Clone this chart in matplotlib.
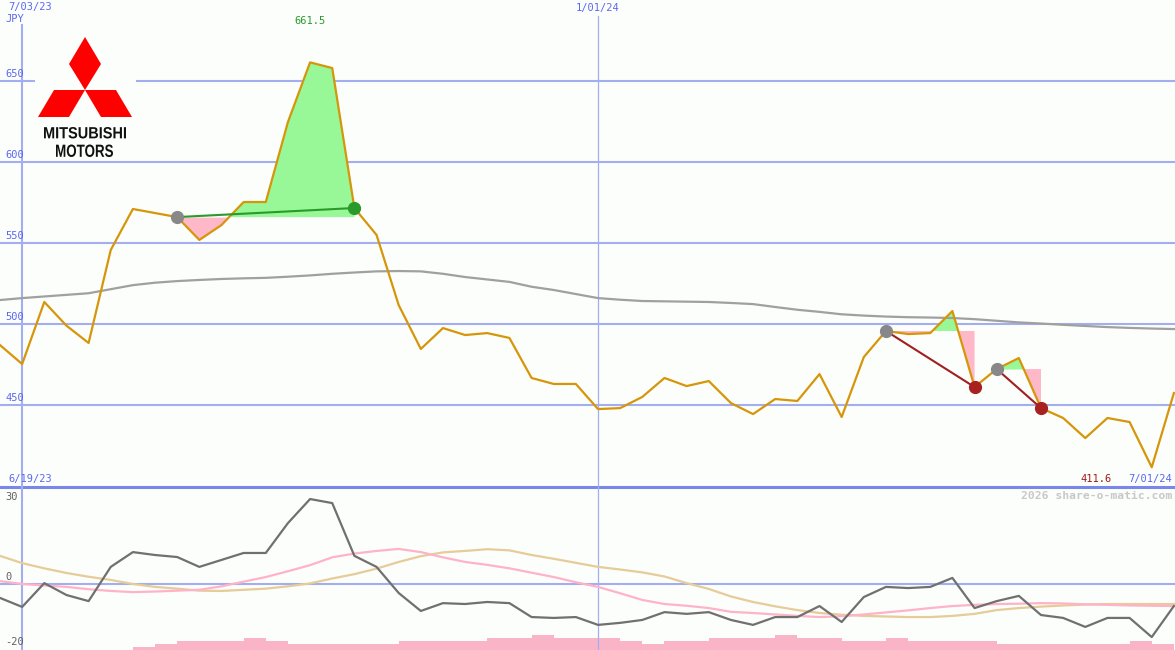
import numpy as np
import pandas as pd
import matplotlib
matplotlib.use("Agg")
import matplotlib.pyplot as plt
import matplotlib.transforms as mtrans
from matplotlib.patches import Polygon, PathPatch
from matplotlib.textpath import TextPath
from matplotlib.font_manager import FontProperties

# weekly closes, 6/26/23 .. 7/01/24
weeks = pd.date_range("2023-06-26", periods=54, freq="7D")

price = [487.0, 475.3, 513.6, 499.0, 488.3, 545.7, 571.0, 568.5, 566.0, 551.9,
         561.1, 575.3, 575.3, 624.7, 661.5, 658.0, 571.6, 555.0, 511.7, 484.6,
         497.5, 493.2, 494.4, 491.4, 466.7, 463.0, 463.0, 447.5, 448.1, 455.0,
         466.7, 461.7, 464.8, 451.2, 444.4, 453.7, 452.5, 469.1, 442.6, 479.6,
         495.7, 493.8, 494.4, 508.0, 461.1, 472.2, 479.0, 448.1, 442.0, 429.6,
         442.0, 439.5, 411.6, 457.4]

ma_long = [514.8, 516.0, 517.0, 518.0, 519.0, 521.5, 524.0, 525.5, 526.5, 527.2,
           527.8, 528.2, 528.5, 529.2, 530.0, 531.0, 531.8, 532.5, 532.7, 532.5,
           531.0, 529.0, 527.5, 526.0, 523.0, 521.0, 518.5, 516.0, 515.0, 514.2,
           514.0, 513.8, 513.6, 513.0, 512.3, 510.5, 508.8, 507.5, 506.0, 505.2,
           504.6, 504.2, 504.0, 503.7, 503.0, 502.0, 501.0, 500.3, 499.5, 498.8,
           498.1, 497.6, 497.2, 496.9]

osc = [-4.8, -7.9, 0.3, -3.8, -5.9, 5.9, 11.0, 10.0, 9.3, 5.9,
       8.3, 10.7, 10.7, 21.0, 29.3, 27.9, 9.7, 5.9, -3.1, -9.3,
       -6.6, -6.9, -6.2, -6.6, -11.4, -11.7, -11.4, -14.1, -13.4, -12.4,
       -9.7, -10.3, -9.7, -12.4, -14.1, -11.4, -11.4, -7.6, -13.1, -4.5,
       -1.0, -1.4, -1.0, 2.1, -8.3, -5.9, -4.1, -10.7, -11.7, -14.8,
       -11.7, -11.7, -18.3, -7.6]

osc_pink = [1.0, 0.0, -0.5, -1.0, -1.8, -2.4, -2.8, -2.6, -2.3, -2.0,
            -0.8, 0.8, 2.4, 4.4, 6.5, 9.2, 10.5, 11.4, 12.1, 11.0,
            9.2, 7.6, 6.6, 5.4, 3.9, 2.4, 0.6, -1.0, -3.2, -5.5,
            -6.9, -7.5, -8.3, -9.6, -10.0, -10.5, -11.0, -11.4, -11.1, -10.5,
            -9.8, -9.1, -8.3, -7.6, -7.2, -6.9, -6.8, -6.6, -6.7, -7.0,
            -7.2, -7.4, -7.5, -7.6]

osc_tan = [9.7, 7.2, 5.4, 3.8, 2.5, 1.4, 0.0, -1.0, -1.6, -2.3,
           -2.4, -2.0, -1.6, -0.8, 0.2, 1.9, 3.4, 5.3, 7.6, 9.6,
           10.9, 11.4, 12.0, 11.6, 10.0, 8.7, 7.3, 5.9, 5.0, 4.0,
           2.6, 0.3, -1.7, -4.3, -6.2, -7.7, -9.0, -10.0, -10.6, -11.0,
           -11.2, -11.4, -11.4, -11.0, -10.3, -9.0, -8.3, -7.8, -7.4, -7.1,
           -6.9, -6.9, -6.9, -6.9]

vol = [0, 0, 0, 0, 0, 0, 1, 2, 3, 3,
       3, 4, 3, 2, 2, 2, 2, 2, 3, 3,
       3, 3, 4, 4, 5, 4, 4, 4, 3, 2,
       3, 3, 4, 4, 4, 5, 4, 4, 3, 3,
       4, 3, 3, 3, 3, 2, 2, 2, 2, 2,
       2, 3, 2, 0]

# (start, end) week index of each marked swing
trades = [(8, 16), (40, 44), (45, 47)]

BG = "#fcfefc"
BLUE_TXT = "#5b67f0"
GRID = "#a3aef0"
mono = "DejaVu Sans Mono"

fig = plt.figure(figsize=(11.75, 6.5), dpi=100, facecolor=BG)
ax = fig.add_axes([0, 163 / 650, 1, 487 / 650], facecolor=BG)
ax2 = fig.add_axes([0, 0, 1, 163 / 650], facecolor=BG)

x0 = weeks[0]
x1 = weeks[0] + pd.Timedelta(days=7 * 53.05)
for a in (ax, ax2):
    a.set_xlim(x0, x1)
    for s in a.spines.values():
        s.set_visible(False)
    a.set_xticks([])
    a.set_yticks([])

ax.set_ylim(399.4, 700)
ax2.set_ylim(-22.76, 33.45)

# grid
for v in [450, 500, 550, 600, 650]:
    ax.axhline(v, color=GRID, lw=1.5, zorder=1)
ax.axhline(399.4, color="#7a87ea", lw=2.2, zorder=1, clip_on=False)
ax2.axhline(0, color=GRID, lw=1.5, zorder=1)
ax.axvline(pd.Timestamp("2023-07-03"), ymax=1 - 25 / 487, color=GRID, lw=1.5, zorder=1)
ax2.axvline(pd.Timestamp("2023-07-03"), color=GRID, lw=1.5, zorder=1)
ax.axvline(pd.Timestamp("2024-01-01"), ymax=1 - 16 / 487, color=GRID, lw=0.9, zorder=1)
ax2.axvline(pd.Timestamp("2024-01-01"), color=GRID, lw=0.9, zorder=1)

# swing fills
p = np.array(price)
for s, e in trades:
    xs = weeks[s:e + 1]
    seg = p[s:e + 1]
    lvl = p[s]
    ax.fill_between(xs, seg, lvl, where=seg >= lvl, interpolate=True,
                    color="#98f898", lw=0, zorder=2)
    ax.fill_between(xs, seg, lvl, where=seg <= lvl, interpolate=True,
                    color="#ffb8c8", lw=0, zorder=2)

ax.plot(weeks, ma_long, color="#a0a0a0", lw=1.6, zorder=3)
ax.plot(weeks, price, color="#d6960a", lw=1.6, zorder=4)

for s, e in trades:
    up = price[e] > price[s]
    c_line = "#2a9a2a" if up else "#a02020"
    ax.plot([weeks[s], weeks[e]], [price[s], price[e]], color=c_line, lw=1.5, zorder=5)
    ax.plot(weeks[s], price[s], "o", ms=8.5, color="#888888", zorder=6)
    ax.plot(weeks[e], price[e], "o", ms=8.5, color="#2a9a2a" if up else "#a82020", zorder=6)

# labels upper panel
blend = mtrans.blended_transform_factory(ax.transAxes, ax.transData)
for v in [450, 500, 550, 600, 650]:
    ax.text(5 / 1175, v + 1.5, str(v), transform=blend, color=BLUE_TXT,
            family=mono, fontsize=7.5, va="bottom", ha="left", zorder=7)
ax.text(8 / 1175, 1 - 7 / 487, "7/03/23", transform=ax.transAxes, color=BLUE_TXT,
        family=mono, fontsize=7.5, va="center", ha="left")
ax.text(5 / 1175, 1 - 19 / 487, "JPY", transform=ax.transAxes, color=BLUE_TXT,
        family=mono, fontsize=7.5, va="center", ha="left")
ax.text(pd.Timestamp("2024-01-01"), 1 - 8 / 487, "1/01/24",
        transform=mtrans.blended_transform_factory(ax.transData, ax.transAxes),
        color=BLUE_TXT, family=mono, fontsize=7.5, va="center", ha="center")
i_max = int(np.argmax(p))
i_min = int(np.argmin(p))
ax.text(weeks[i_max], 1 - 21 / 487, f"{price[i_max]:.1f}",
        transform=mtrans.blended_transform_factory(ax.transData, ax.transAxes),
        color="#2a9a2a", family=mono, fontsize=7.5, va="center", ha="center")
ax.text(1112 / 1175, 8 / 487, f"{price[i_min]:.1f}", transform=ax.transAxes,
        color="#a01818", family=mono, fontsize=7.5, va="center", ha="right")
ax.text(1172 / 1175, 8 / 487, "7/01/24", transform=ax.transAxes, color=BLUE_TXT,
        family=mono, fontsize=7.5, va="center", ha="right")
ax.text(8 / 1175, 8 / 487, "6/19/23", transform=ax.transAxes, color=BLUE_TXT,
        family=mono, fontsize=7.5, va="center", ha="left")

# lower panel
ax2v = ax2.twinx()
ax2v.set_ylim(0, 54.3)
ax2v.axis("off")
ax2v.bar(weeks, vol, width=7, align="edge", color="#f9b4c8", lw=0, zorder=1)
ax2.set_zorder(ax2v.get_zorder() + 1)
ax2.patch.set_visible(False)
ax2v.patch.set_visible(True)
ax2v.patch.set_facecolor(BG)

ax2.plot(weeks, osc_tan, color="#e5cc98", lw=1.6, zorder=3)
ax2.plot(weeks, osc_pink, color="#ffb3c8", lw=1.6, zorder=3)
ax2.plot(weeks, osc, color="#707070", lw=1.6, zorder=4)

blend2 = mtrans.blended_transform_factory(ax2.transAxes, ax2.transData)
ax2.text(5 / 1175, 30, "30", transform=blend2, color="#606060", family=mono,
         fontsize=7.5, va="center", ha="left")
ax2.text(5 / 1175, 0.8, "0", transform=blend2, color="#606060", family=mono,
         fontsize=7.5, va="bottom", ha="left")
ax2.text(5 / 1175, -20, "-20", transform=blend2, color="#606060", family=mono,
         fontsize=7.5, va="center", ha="left")
ax2.text(1172 / 1175, 1 - 9 / 163, "2026 share-o-matic.com", transform=ax2.transAxes,
         color="#c8c8c8", family=mono, fontsize=8.2, fontweight="bold",
         va="center", ha="right")

# logo (pixel coordinates inside a small axes)
lg = fig.add_axes([35 / 1175, 1 - 160 / 650, 101 / 1175, 130 / 650], facecolor=BG)
lg.set_xlim(35, 136)
lg.set_ylim(160, 30)
lg.axis("off")
lg.add_patch(plt.Rectangle((35, 30), 101, 130, color=BG, lw=0))
red = "#ff0000"
lg.add_patch(Polygon([(85, 37), (101, 64), (85, 90), (69, 64)], color=red, lw=0))
lg.add_patch(Polygon([(85, 90), (54, 90), (38, 117), (69, 117)], color=red, lw=0))
lg.add_patch(Polygon([(85, 90), (116, 90), (132, 117), (101, 117)], color=red, lw=0))
fp = FontProperties(family="Liberation Sans", weight="bold")
for word, bx0, bx1, by0, by1 in [("MITSUBISHI", 44, 126, 127, 138.5),
                                 ("MOTORS", 56, 113, 144.5, 157)]:
    tp = TextPath((0, 0), word, size=20, prop=fp)
    bb = tp.get_extents()
    tr = (mtrans.Affine2D().translate(-bb.x0, -bb.y0)
          .scale((bx1 - bx0) / bb.width, -(by1 - by0) / bb.height)
          .translate(bx0, by1))
    lg.add_patch(PathPatch(tr.transform_path(tp), color="#111111", lw=0))

fig.savefig("out.png", dpi=100, facecolor=BG)
